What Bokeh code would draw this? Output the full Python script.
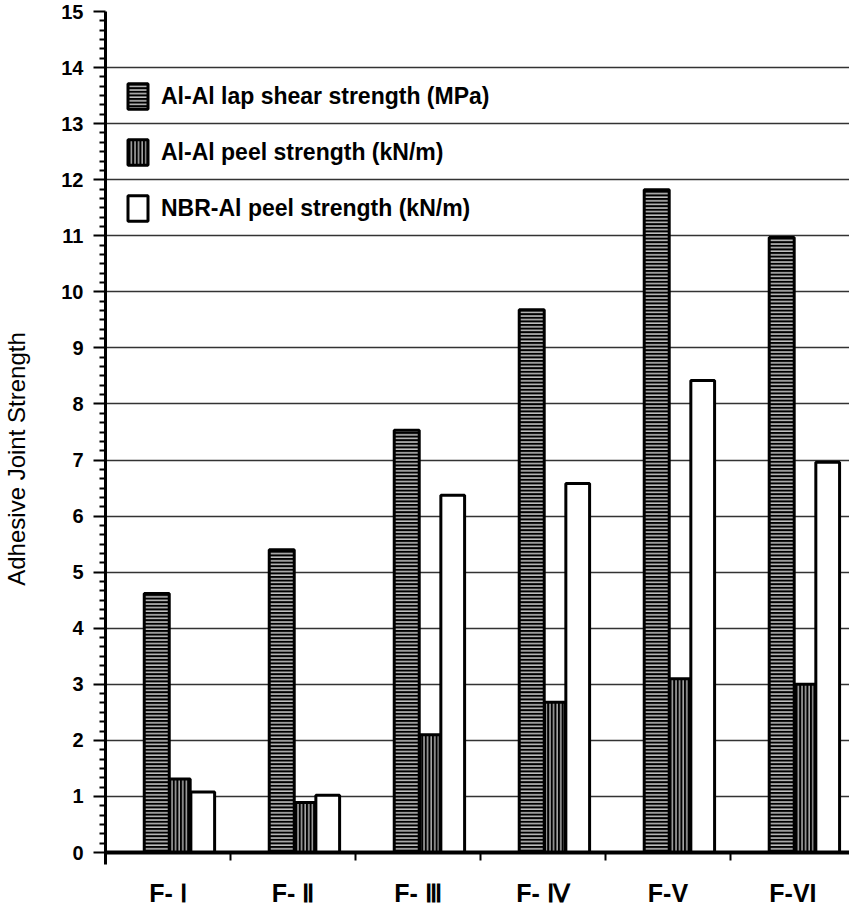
from bokeh.plotting import figure
from bokeh.models import Range1d, LinearAxis, FixedTicker, Legend, LegendItem
from bokeh.embed import file_html
from bokeh.resources import INLINE

# ---- data ----
categories = ["F- \u2160", "F- \u2161", "F- \u2162", "F- \u2163", "F-V", "F-VI"]
lap_shear = [4.62, 5.40, 7.53, 9.68, 11.82, 10.97]      # Al-Al lap shear strength (MPa)
al_peel = [1.31, 0.89, 2.10, 2.68, 3.10, 3.00]          # Al-Al peel strength (kN/m)
nbr_peel = [1.08, 1.02, 6.37, 6.58, 8.42, 6.96]         # NBR-Al peel strength (kN/m)
series_names = ["Al-Al lap shear strength (MPa)",
                "Al-Al peel strength (kN/m)",
                "NBR-Al peel strength (kN/m)"]
y_ticks = list(range(0, 16))

# ---- layout ----
n = len(categories)
idx = list(range(n))
off_lap, w_lap = 0.41, 0.20
off_peel, w_peel = 0.595, 0.165
off_nbr, w_nbr = 0.778, 0.19

FONT = "Liberation Sans"
FIG_W, FIG_H = 849, 906
BORDER_L, BORDER_T = 99, 11
PX_PER_UNIT = 841 / 15.0          # 15 units over 841 px
BELOW_ZERO_PX = FIG_H - BORDER_T - 841   # frame space kept below y = 0 for the x labels
y_start = -BELOW_ZERO_PX / PX_PER_UNIT

p = figure(width=FIG_W, height=FIG_H, output_backend="svg", toolbar_location=None,
           x_range=Range1d(0, 750 / 126), y_range=Range1d(y_start, 15),
           x_axis_location=None, y_axis_location="left",
           min_border_left=BORDER_L, min_border_right=0, min_border_top=BORDER_T,
           min_border_bottom=0)
p.outline_line_color = None
p.background_fill_color = "white"
p.border_fill_color = "white"
p.xgrid.grid_line_color = None

minor = [i + k / 6.0 for i in range(15) for k in range(1, 6)]
yticker = FixedTicker(ticks=y_ticks, minor_ticks=minor)
p.ygrid.ticker = yticker
p.ygrid.grid_line_color = "#333333"
p.ygrid.grid_line_width = 1.6

# y axis
ya = p.yaxis[0]
ya.ticker = yticker
ya.bounds = (-12 / PX_PER_UNIT, 15)
ya.axis_line_width = 3
ya.major_tick_out = 12
ya.major_tick_in = 0
ya.minor_tick_out = 6
ya.minor_tick_in = 0
ya.major_tick_line_width = 2
ya.minor_tick_line_width = 2
ya.major_label_text_font = FONT
ya.major_label_text_font_style = "bold"
ya.major_label_text_font_size = "20px"
ya.major_label_text_color = "black"
ya.major_label_standoff = 10
ya.axis_label = "Adhesive Joint Strength"
ya.axis_label_text_font = FONT
ya.axis_label_text_font_style = "normal"
ya.axis_label_text_font_size = "24px"
ya.axis_label_text_color = "black"
ya.axis_label_standoff = 28

# x axis drawn at y = 0: labels at group centres, tick marks at group boundaries
xa = LinearAxis(fixed_location=0,
                ticker=FixedTicker(ticks=[i + 0.5 for i in idx], minor_ticks=idx),
                major_label_overrides={i + 0.5: c for i, c in zip(idx, categories)})
xa.axis_line_width = 4
xa.axis_line_color = "black"
xa.major_tick_line_color = None
xa.major_tick_out = 0
xa.major_tick_in = 0
xa.minor_tick_out = 8
xa.minor_tick_in = 0
xa.minor_tick_line_width = 2
xa.minor_tick_line_color = "black"
xa.major_label_standoff = 18
xa.major_label_text_font = FONT
xa.major_label_text_font_style = "bold"
xa.major_label_text_font_size = "25px"
xa.major_label_text_color = "black"
p.add_layout(xa, "below")

# bars
r1 = p.vbar(x=[i + off_lap for i in idx], top=lap_shear, bottom=0, width=w_lap,
            fill_color="black", line_color="black", line_width=3,
            hatch_pattern="horizontal_line", hatch_color="#e8e8e8",
            hatch_scale=3.6, hatch_weight=1.3)
r2 = p.vbar(x=[i + off_peel for i in idx], top=al_peel, bottom=0, width=w_peel,
            fill_color="black", line_color="black", line_width=3,
            hatch_pattern="vertical_line", hatch_color="#c8c8c8",
            hatch_scale=3.6, hatch_weight=1.3)
r3 = p.vbar(x=[i + off_nbr for i in idx], top=nbr_peel, bottom=0, width=w_nbr,
            fill_color="white", line_color="black", line_width=3)

# legend: glyph tops 69 px under the frame top, rows 56 px apart
legend_h = 3 * 32 + 2 * 24
legend = Legend(items=[LegendItem(label=series_names[0], renderers=[r1]),
                       LegendItem(label=series_names[1], renderers=[r2]),
                       LegendItem(label=series_names[2], renderers=[r3])],
                location=(20, FIG_H - BORDER_T - 69 - legend_h), orientation="vertical",
                glyph_width=25, glyph_height=32, label_height=32,
                spacing=24, padding=0, margin=0, label_standoff=11,
                background_fill_alpha=0, border_line_color=None,
                label_text_font=FONT, label_text_font_style="bold",
                label_text_font_size="23px", label_text_color="black")
p.add_layout(legend, "center")

open("out.html", "w").write(file_html(p, INLINE))
